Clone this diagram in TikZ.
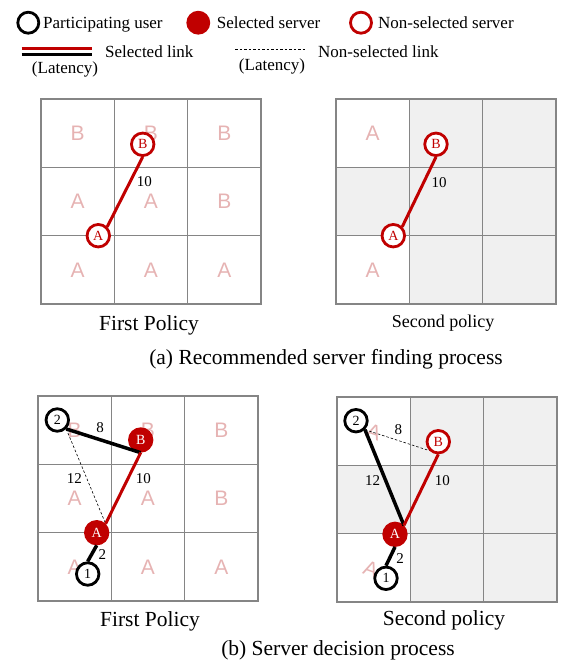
\documentclass[tikz,border=0pt]{standalone}
\usepackage{fontspec}
\setmainfont{Liberation Serif}
\newfontfamily\zonefont{Liberation Sans}

\definecolor{srvred}{HTML}{C00000}
\definecolor{zonepink}{HTML}{E6B3B3}
\definecolor{gridgray}{HTML}{858585}
\definecolor{cellgray}{HTML}{F0F0F0}

\begin{document}
\begin{tikzpicture}[
    x=1pt, y=-1pt,
    cell/.style={
        draw=gridgray,
        line width=1.3pt
    },
    zone/.style={
        text=zonepink,
        inner sep=0pt,
        font=\zonefont\fontsize{21}{21}\selectfont
    },
    user/.style={
        circle,
        draw=black,
        fill=white,
        line width=2.8pt,
        minimum size=22.5pt,
        inner sep=0pt,
        font=\fontsize{14}{14}\selectfont
    },
    selsrv/.style={
        user,
        draw=srvred,
        fill=srvred,
        text=white
    },
    nonsrv/.style={
        user,
        draw=srvred,
        text=srvred
    },
    redlink/.style={
        draw=srvred,
        line width=3pt
    },
    blacklink/.style={
        draw=black,
        line width=3.5pt
    },
    nonlink/.style={
        draw=black,
        line width=0.6pt,
        dash pattern=on 2.5pt off 2pt
    },
    latency/.style={
        inner sep=0pt,
        font=\fontsize{15}{15}\selectfont
    },
    legend/.style={
        inner sep=0pt,
        anchor=base west,
        font=\fontsize{17}{17}\selectfont
    },
    caption/.style={
        inner sep=0pt,
        anchor=base,
        font=\fontsize{21.5}{21.5}\selectfont
    }
]

    \useasboundingbox (0,0) rectangle (570,666);

    % --- Legend ---

    % Servers and users
    \node[user, minimum size=21pt] (lguser) at (28.3,22.7) {};
    \node[legend] (lgusertxt) at (43,28.3) {Participating user};
    \node[selsrv, minimum size=21pt] (lgsel) at (198.3,22.7) {};
    \node[legend] (lgseltxt) at (216.7,28.3) {Selected server};
    \node[nonsrv, minimum size=21pt] (lgnon) at (361,22.7) {};
    \node[legend] (lgnontxt) at (378,28.3) {Non-selected server};

    % Links
    \coordinate (lgr1) at (21.7,48.3);
    \coordinate (lgr2) at (91.7,48.3);
    \coordinate (lgb1) at (21.7,55);
    \coordinate (lgb2) at (91.7,55);
    \draw[redlink] (lgr1) -- (lgr2);
    \draw[blacklink, line width=3pt] (lgb1) -- (lgb2);
    \node[legend] (lgsellink) at (105,57.3) {Selected link};
    \node[legend, anchor=base] (lglat1) at (65,74) {(Latency)};

    \coordinate (lgn1) at (235,49.3);
    \coordinate (lgn2) at (306,49.3);
    \draw[nonlink] (lgn1) -- (lgn2);
    \node[legend] (lgnonlink) at (318,57.3) {Non-selected link};
    \node[legend, anchor=base] (lglat2) at (272,71) {(Latency)};

    % --- (a) First policy ---
    \begin{scope}[shift={(41,99)}]
        \foreach \col in {0,1,2}
            \foreach \row in {0,1,2}
                \draw[cell] (\col*73.33,\row*68.33) rectangle ++(73.33,68.33);
        \foreach \lt [count=\k from 0] in {B,B,B,A,A,B,A,A,A}
            \node[zone] (a1z\k) at ({mod(\k,3)*73.33+36.67},{div(\k,3)*68.33+34.17}) {\lt};

        \node[nonsrv] (a1B) at (101.7,45.3) {B};
        \node[nonsrv] (a1A) at (57.3,136.7) {A};
        \draw[redlink] (a1A.north east) -- (a1B.south);
        \node[latency] (a1lat) at (103.3,82.7) {10};

        \node[caption] (a1cap) at (108,231.7) {First Policy};
    \end{scope}

    % --- (a) Second policy ---
    \begin{scope}[shift={(336,99)}]
        \fill[cellgray] (0,0) rectangle (220,205);
        \fill[white] (0,0) rectangle (73.33,68.33);
        \fill[white] (0,136.67) rectangle (73.33,205);
        \foreach \col in {0,1,2}
            \foreach \row in {0,1,2}
                \draw[cell] (\col*73.33,\row*68.33) rectangle ++(73.33,68.33);
        \node[zone] (a2z0) at (36.67,34.17) {A};
        \node[zone] (a2z6) at (36.67,170.83) {A};

        \node[nonsrv] (a2B) at (100,45.3) {B};
        \node[nonsrv] (a2A) at (57.3,136.7) {A};
        \draw[redlink] (a2A.north east) -- (a2B.south);
        \node[latency] (a2lat) at (103,83.7) {10};

        \node[caption, font=\fontsize{18}{18}\selectfont] (a2cap) at (107,228.3) {Second policy};
    \end{scope}

    \node[caption] (capa) at (326,364.5) {(a) Recommended server finding process};

    % --- (b) First policy ---
    \begin{scope}[shift={(38,396)}]
        \foreach \col in {0,1,2}
            \foreach \row in {0,1,2}
                \draw[cell] (\col*73.33,\row*68.33) rectangle ++(73.33,68.33);
        \foreach \lt [count=\k from 0] in {B,B,B,A,A,B,A,A,A}
            \node[zone] (b1z\k) at ({mod(\k,3)*73.33+36.67},{div(\k,3)*68.33+34.17}) {\lt};

        \node[user] (b1u2) at (19.3,24) {2};
        \node[selsrv] (b1B) at (102.7,44) {B};
        \node[selsrv] (b1A) at (58.7,136.7) {A};
        \node[user] (b1u1) at (49.7,178) {1};

        \draw[blacklink] (b1u2.south east) -- (b1B.south);
        \draw[nonlink] (b1u2.south east) -- (b1A.north east);
        \draw[redlink] (b1A.north east) -- (b1B.south);
        \draw[blacklink] (b1A.south) -- (b1u1.north);

        \node[latency] (b1lat8) at (62,31.7) {8};
        \node[latency] (b1lat12) at (36.3,82.3) {12};
        \node[latency] (b1lat10) at (105.3,82.3) {10};
        \node[latency] (b1lat2) at (64.3,159) {2};

        \node[caption] (b1cap) at (112,230.7) {First Policy};
    \end{scope}

    % --- (b) Second policy ---
    \begin{scope}[shift={(337,397)}]
        \fill[cellgray] (0,0) rectangle (220,205);
        \fill[white] (0,0) rectangle (73.33,68.33);
        \fill[white] (0,136.67) rectangle (73.33,205);
        \foreach \col in {0,1,2}
            \foreach \row in {0,1,2}
                \draw[cell] (\col*73.33,\row*68.33) rectangle ++(73.33,68.33);
        \node[zone, rotate=-20] (b2z0) at (37,35) {A};
        \node[zone, rotate=-20] (b2z6) at (34,172) {A};

        \node[user] (b2u2) at (19,23.7) {2};
        \node[nonsrv] (b2B) at (101.3,44.7) {B};
        \node[selsrv] (b2A) at (58,137.3) {A};
        \node[user] (b2u1) at (49,181.3) {1};

        \draw[blacklink] (b2u2.south east) -- (b2A.north east);
        \draw[nonlink] (b2u2.south east) -- (b2B.south west);
        \draw[redlink] (b2A.north east) -- (b2B.south);
        \draw[blacklink] (b2A.south) -- (b2u1.north);

        \node[latency] (b2lat8) at (61.3,32.3) {8};
        \node[latency] (b2lat12) at (35.7,83.7) {12};
        \node[latency] (b2lat10) at (105.3,83.7) {10};
        \node[latency] (b2lat2) at (63,161.3) {2};

        \node[caption] (b2cap) at (107,228) {Second policy};
    \end{scope}

    \node[caption] (capb) at (338,655) {(b) Server decision process};

\end{tikzpicture}
\end{document}
